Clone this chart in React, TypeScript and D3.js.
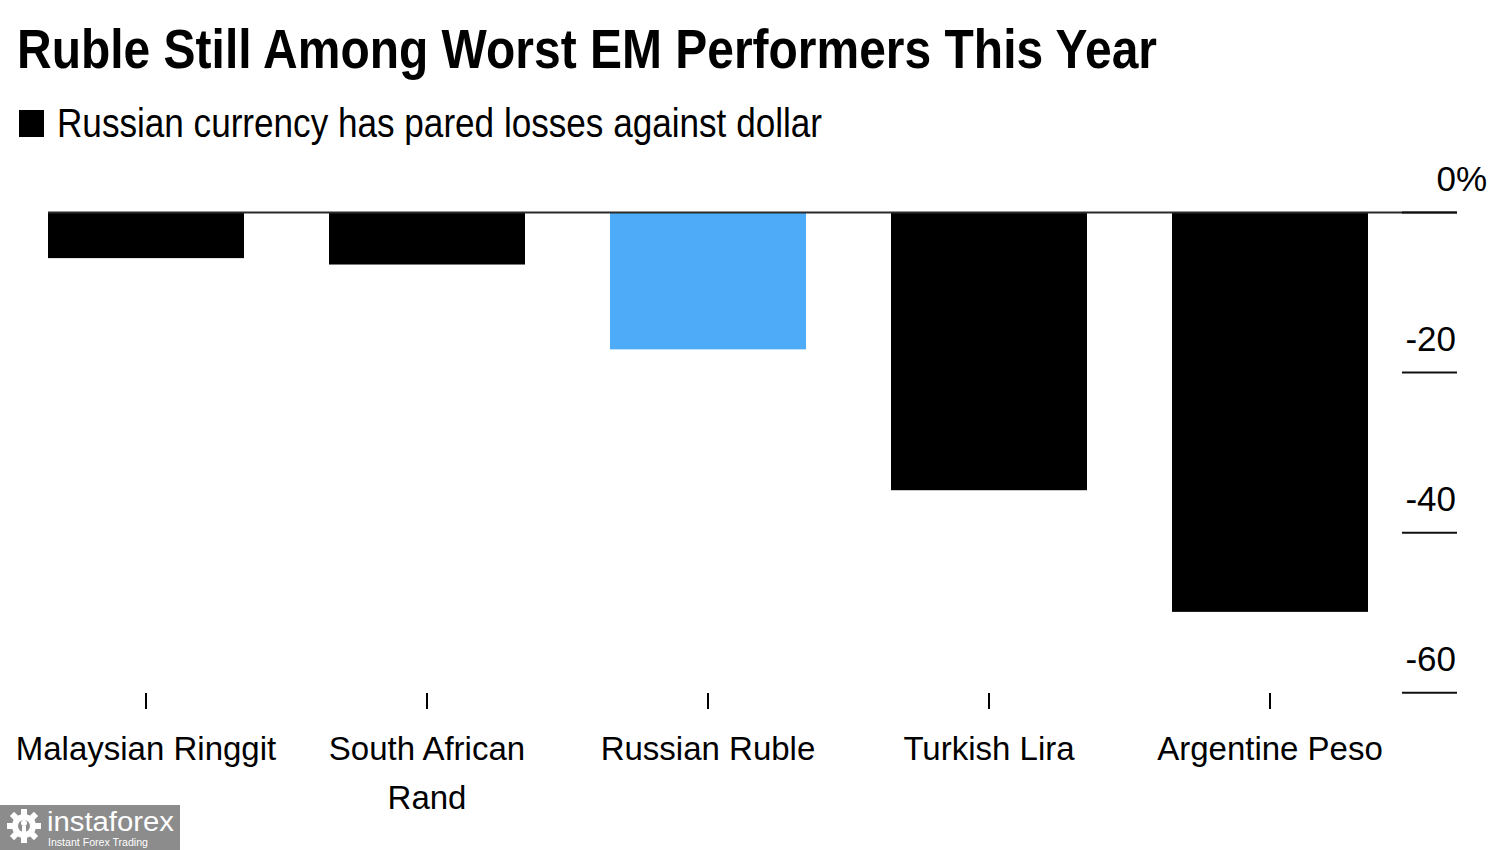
import React from "react";
import * as d3 from "d3";

const categories = ["Malaysian Ringgit", "South African Rand", "Russian Ruble", "Turkish Lira", "Argentine Peso"];
const categoryLines = [["Malaysian Ringgit"], ["South African", "Rand"], ["Russian Ruble"], ["Turkish Lira"], ["Argentine Peso"]];
const values = [-5.7, -6.5, -17.1, -34.7, -49.9];
const highlight = ["Russian Ruble"];
const yTicks = [0, -20, -40, -60];

const W = 1500;
const H = 850;
const FONT = "'Liberation Sans', Arial, Helvetica, sans-serif";

export default function App() {
  const y = d3.scaleLinear().domain([-60, 0]).range([692.7, 212.5]);
  const x = d3
    .scaleBand<string>()
    .domain(categories)
    .range([5.5, 1410.5])
    .paddingInner(0.3025)
    .paddingOuter(0.15125);

  const axisRight = 1457;
  const tickLeft = 1402;

  const gearTeeth = d3.range(8).map((i) => (i * 360) / 8);

  return (
    <div style={{ position: "absolute", left: 0, top: 0 }}>
      <svg width={W} height={H} style={{ display: "block", background: "#ffffff" }}>
        <rect x={0} y={0} width={W} height={H} fill="#ffffff" />
        {/* Title */}
        <text
          x={17}
          y={68}
          fontFamily={FONT}
          fontWeight={700}
          fontSize={56}
          fill="#000"
          textLength={1140}
          lengthAdjust="spacingAndGlyphs"
        >
          Ruble Still Among Worst EM Performers This Year
        </text>
        {/* Legend / subtitle */}
        <rect x={19} y={110} width={25} height={27} fill="#000" />
        <text
          x={57}
          y={137}
          fontFamily={FONT}
          fontSize={40}
          fill="#000"
          textLength={765}
          lengthAdjust="spacingAndGlyphs"
        >
          Russian currency has pared losses against dollar
        </text>

        {/* Bars */}
        {categories.map((c, i) => (
          <rect
            key={c}
            x={x(c)}
            y={y(0)}
            width={x.bandwidth()}
            height={y(values[i]) - y(0)}
            fill={highlight.includes(c) ? "#4dabf7" : "#000000"}
          />
        ))}

        {/* Zero line */}
        <line
          x1={x(categories[0])}
          x2={axisRight}
          y1={y(0)}
          y2={y(0)}
          stroke="#2a2a2a"
          strokeWidth={2}
        />

        {/* Y axis ticks and labels */}
        {yTicks.map((t) => (
          <g key={t}>
            <line x1={tickLeft} x2={axisRight} y1={y(t)} y2={y(t)} stroke="#111" strokeWidth={2} />
            <text
              x={axisRight - 1}
              y={y(t) - 22}
              textAnchor="end"
              fontFamily={FONT}
              fontSize={35}
              fill="#000"
            >
              {t === 0 ? "0" : String(t)}
            </text>
            {t === 0 && (
              <text x={axisRight - 1} y={y(t) - 22} fontFamily={FONT} fontSize={35} fill="#000">
                %
              </text>
            )}
          </g>
        ))}

        {/* Category ticks and labels */}
        {categories.map((c, i) => {
          const cx = (x(c) as number) + x.bandwidth() / 2;
          return (
            <g key={c}>
              <line x1={cx} x2={cx} y1={693} y2={709} stroke="#000" strokeWidth={2} />
              {categoryLines[i].map((ln, j) => (
                <text
                  key={j}
                  x={cx}
                  y={760 + j * 49}
                  textAnchor="middle"
                  fontFamily={FONT}
                  fontSize={33}
                  fill="#000"
                >
                  {ln}
                </text>
              ))}
            </g>
          );
        })}

        {/* Watermark */}
        <g>
          <rect x={0} y={805} width={180} height={45} fill="#8c8c8c" />
          <g transform="translate(24,826)" fill="#ffffff">
            {gearTeeth.map((a) => (
              <rect key={a} x={-3} y={-17} width={6} height={8} transform={`rotate(${a})`} />
            ))}
            <circle r={12} fill="#ffffff" />
            <circle r={6} fill="#8c8c8c" />
            <circle cx={0} cy={-3} r={3} fill="#ffffff" />
            <rect x={-2} y={0} width={4} height={12} fill="#ffffff" />
          </g>
          <text x={47} y={831} fontFamily={FONT} fontSize={27} fill="#ffffff" textLength={127} lengthAdjust="spacingAndGlyphs">
            instaforex
          </text>
          <text x={48} y={846} fontFamily={FONT} fontSize={10} fill="#ffffff" textLength={100} lengthAdjust="spacingAndGlyphs">
            Instant Forex Trading
          </text>
        </g>
      </svg>
    </div>
  );
}
